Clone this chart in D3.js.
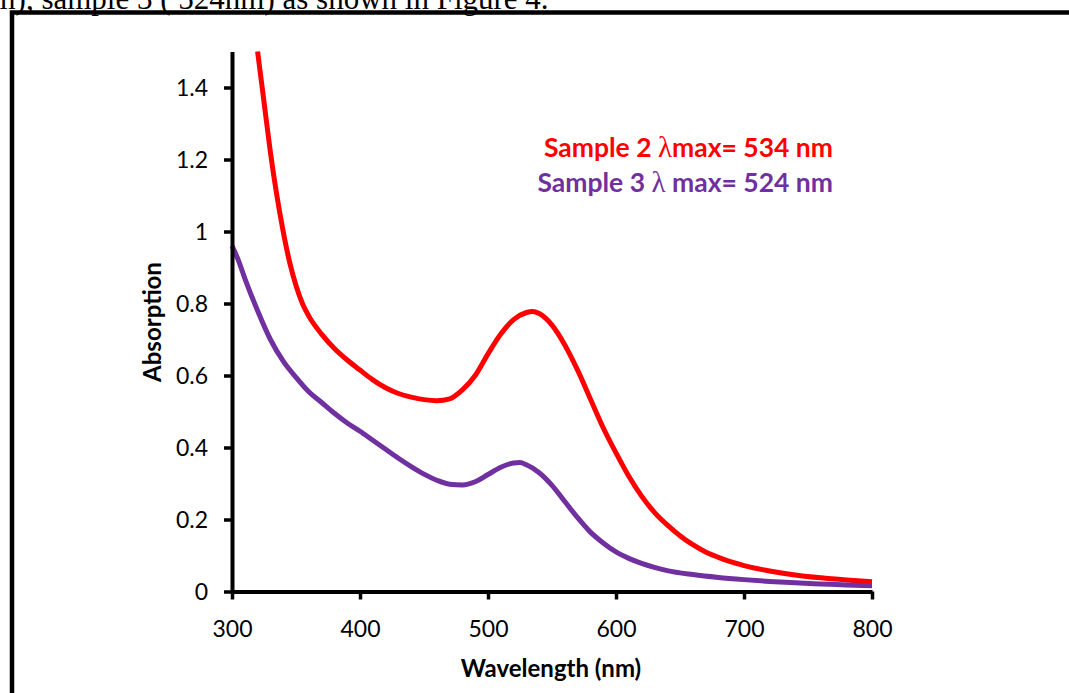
<!DOCTYPE html>
<html>
<head>
<meta charset="utf-8">
<script src="https://cdn.jsdelivr.net/npm/d3@7"></script>
<style>
  body { margin: 0; background: #fff; }
  svg { display: block; }
  .tick text { font-family: Lato, "Open Sans", sans-serif; font-size: 23px; fill: #000; }
</style>
</head>
<body>
<div class="chart"></div>
<script>
var svgWidth = 1069;
var svgHeight = 693;

// data
var redWave = [320, 325, 330, 340, 345, 350, 355, 360, 370, 380, 390, 400, 410, 420, 430, 440, 450, 460, 470, 480, 490, 500,
  510, 520, 530, 535, 540, 550, 560, 570, 580, 590, 600, 610, 620, 630, 640, 650, 660, 670, 680, 690, 700,
  720, 740, 760, 780, 800];
var redAbs = [1.50, 1.36, 1.22, 1.00, 0.915, 0.85, 0.80, 0.765, 0.715, 0.675, 0.643, 0.615, 0.588, 0.566, 0.55, 0.54, 0.533, 0.53, 0.535, 0.56, 0.60, 0.66,
  0.715, 0.755, 0.775, 0.778, 0.772, 0.74, 0.685, 0.615, 0.535, 0.455, 0.385, 0.32, 0.265, 0.22, 0.185, 0.155, 0.13, 0.11, 0.095, 0.082, 0.072,
  0.057, 0.046, 0.038, 0.032, 0.027];

var purpleWave = [300, 305, 310, 320, 330, 340, 350, 360, 370, 380, 390, 400, 410, 420, 430, 440, 450, 460, 470, 480,
  490, 500, 510, 520, 525, 530, 540, 550, 560, 570, 580, 590, 600, 610, 620, 630, 640, 660, 680, 700,
  720, 740, 760, 780, 800];
var purpleAbs = [0.96, 0.92, 0.87, 0.78, 0.70, 0.64, 0.595, 0.555, 0.525, 0.495, 0.468, 0.445, 0.42, 0.395, 0.37, 0.347, 0.326, 0.309, 0.298, 0.296,
  0.305, 0.325, 0.345, 0.357, 0.358, 0.352, 0.33, 0.295, 0.25, 0.205, 0.165, 0.135, 0.11, 0.092, 0.078, 0.067, 0.058, 0.047, 0.039, 0.033,
  0.028, 0.024, 0.021, 0.018, 0.016];

var xTicks = [300, 400, 500, 600, 700, 800];
var yTicks = [0, 0.2, 0.4, 0.6, 0.8, 1, 1.2, 1.4];

var svg = d3.select(".chart")
  .append("svg")
  .attr("width", svgWidth)
  .attr("height", svgHeight);

// caption text cut off at the top of the page
svg.append("text")
  .attr("x", -24)
  .attr("y", 9)
  .style("font-family", "'Liberation Serif', serif")
  .style("font-size", "31px")
  .text("nm), sample 3 ( 524nm) as shown in Figure 4.");

// frame around the figure
svg.append("rect")
  .attr("x", 12)
  .attr("y", 12.5)
  .attr("width", 1100)
  .attr("height", 720)
  .attr("fill", "none")
  .attr("stroke", "#000")
  .attr("stroke-width", 4.5);

var xScale = d3.scaleLinear().domain([300, 800]).range([232, 872]);
var yScale = d3.scaleLinear().domain([0, 1.5]).range([591.5, 51.5]);

svg.append("clipPath").attr("id", "plot")
  .append("rect")
  .attr("x", 228).attr("y", 50)
  .attr("width", 650).attr("height", 560);

var line = d3.line()
  .x(d => xScale(d[0]))
  .y(d => yScale(d[1]))
  .curve(d3.curveMonotoneX);

var redData = redWave.map((w, i) => [w, redAbs[i]]);
var purpleData = purpleWave.map((w, i) => [w, purpleAbs[i]]);

svg.append("path")
  .datum(redData)
  .attr("clip-path", "url(#plot)")
  .attr("d", line)
  .attr("fill", "none")
  .attr("stroke", "#ff0000")
  .attr("stroke-width", 5);

svg.append("path")
  .datum(purpleData)
  .attr("clip-path", "url(#plot)")
  .attr("d", line)
  .attr("fill", "none")
  .attr("stroke", "#7030a0")
  .attr("stroke-width", 5);

// axes
var bottomAxis = d3.axisBottom(xScale).tickValues(xTicks).tickSize(8).tickSizeOuter(0).tickPadding(21);
var leftAxis = d3.axisLeft(yScale).tickValues(yTicks).tickSize(8).tickSizeOuter(0).tickPadding(16)
  .tickFormat(d3.format("~g"));

var gx = svg.append("g")
  .attr("transform", "translate(0, 591.5)")
  .call(bottomAxis);
gx.select(".domain").attr("stroke-width", 4).attr("stroke", "#000");
gx.selectAll(".tick line").attr("stroke-width", 3.5);

var gy = svg.append("g")
  .attr("transform", "translate(232, 0)")
  .call(leftAxis);
gy.select(".domain").attr("stroke-width", 4).attr("stroke", "#000");
gy.selectAll(".tick line").attr("stroke-width", 3.5);
gy.selectAll(".tick text").attr("dy", "0.36em");

// axis titles
svg.append("text")
  .attr("transform", "translate(161, 322) rotate(-90)")
  .attr("text-anchor", "middle")
  .style("font-family", "Lato, 'Open Sans', sans-serif")
  .style("font-weight", "bold")
  .style("font-size", "24px")
  .text("Absorption");

svg.append("text")
  .attr("x", 551)
  .attr("y", 677)
  .attr("text-anchor", "middle")
  .style("font-family", "Lato, 'Open Sans', sans-serif")
  .style("font-weight", "bold")
  .style("font-size", "24px")
  .text("Wavelength (nm)");

// annotations
var notes = [
  {y: 157, color: "#ff0000", pre: "Sample 2 ", post: "max= 534 nm"},
  {y: 192, color: "#7030a0", pre: "Sample 3 ", post: " max= 524 nm"}
];
notes.forEach(function(n) {
  var t = svg.append("text")
    .attr("x", 833)
    .attr("y", n.y)
    .attr("text-anchor", "end")
    .attr("fill", n.color)
    .style("font-family", "Lato, 'Open Sans', sans-serif")
    .style("font-weight", "bold")
    .style("font-size", "26.5px");
  t.append("tspan").text(n.pre);
  t.append("tspan").style("font-family", "'Liberation Serif', serif").style("font-weight", "normal").style("font-size", "29px").text("λ");
  t.append("tspan").text(n.post);
});
</script>
</body>
</html>
